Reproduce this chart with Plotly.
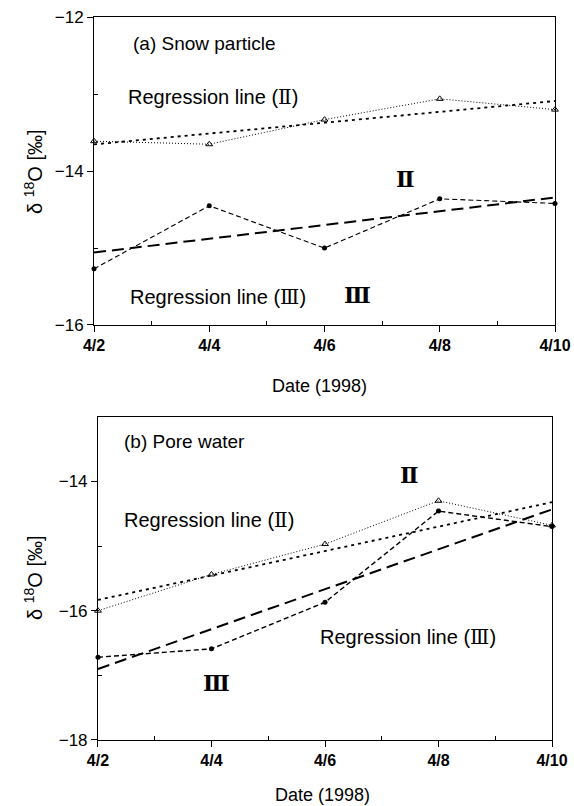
import numpy as np
import plotly.graph_objects as go

# Sampling dates (April 1998) and their axis labels
days = [2, 4, 6, 8, 10]
day_labels = ["4/2", "4/4", "4/6", "4/8", "4/10"]
minor_days = [3, 5, 7, 9]

# delta-18O [permil] for sites II and III
snow_II = [-13.61, -13.65, -13.33, -13.06, -13.20]
snow_III = [-15.27, -14.45, -15.00, -14.36, -14.42]
pore_II = [-16.00, -15.44, -14.97, -14.30, -14.68]
pore_III = [-16.72, -16.59, -15.87, -14.46, -14.70]

FONT = "Liberation Sans, Arial, Noto Sans CJK JP, sans-serif"
SERIF = "DejaVu Serif, Liberation Serif, Noto Sans CJK JP, serif"


def regression(y):
    """Least-squares line over the sampling period."""
    k, b = np.polyfit(days, y, 1)
    xs = [days[0], days[-1]]
    return xs, [k * x + b for x in xs]


def add_panel(fig, xref, yref, y2, y3, w3=1.1):
    # site II observations
    fig.add_trace(go.Scatter(
        x=days, y=y2, mode="lines+markers", xaxis=xref, yaxis=yref,
        line=dict(color="black", width=1, dash="1px,2px"),
        marker=dict(symbol="triangle-up-open", size=6, color="black",
                    line=dict(width=1)),
        cliponaxis=False, showlegend=False))
    rx, ry = regression(y2)
    fig.add_trace(go.Scatter(
        x=rx, y=ry, mode="lines", xaxis=xref, yaxis=yref,
        line=dict(color="black", width=1.8, dash="3px,4px"),
        showlegend=False))
    # site III observations
    fig.add_trace(go.Scatter(
        x=days, y=y3, mode="lines+markers", xaxis=xref, yaxis=yref,
        line=dict(color="black", width=w3, dash="5px,3px"),
        marker=dict(symbol="circle", size=5, color="black"),
        cliponaxis=False, showlegend=False))
    rx, ry = regression(y3)
    fig.add_trace(go.Scatter(
        x=rx, y=ry, mode="lines", xaxis=xref, yaxis=yref,
        line=dict(color="black", width=2, dash="12px,6px"),
        showlegend=False))


fig = go.Figure()
add_panel(fig, "x", "y", snow_II, snow_III)
add_panel(fig, "x2", "y2", pore_II, pore_III, w3=1.4)

xcommon = dict(
    range=[2, 10], tickmode="array", tickvals=days, ticktext=day_labels,
    ticks="outside", ticklen=6, tickcolor="black", showline=True,
    linecolor="black", linewidth=1, mirror=True, showgrid=False,
    zeroline=False, automargin=False,
    tickfont=dict(family=FONT, size=16, color="black", weight="bold"),
    minor=dict(tickmode="array", tickvals=minor_days, ticks="inside",
               ticklen=4, tickcolor="black"),
)
ycommon = dict(
    ticks="outside", ticklen=6, tickcolor="black", showline=True,
    linecolor="black", linewidth=1, mirror=True, showgrid=False,
    zeroline=False, automargin=False,
    tickfont=dict(family=FONT, size=17, color="black"),
)

fig.update_layout(
    width=574, height=806, margin=dict(l=0, r=0, t=0, b=0),
    paper_bgcolor="white", plot_bgcolor="white",
    xaxis=dict(domain=[0.1638, 0.9669], anchor="y", **xcommon),
    yaxis=dict(domain=[0.5968, 0.9785], anchor="x", range=[-16, -12],
               tickmode="array", tickvals=[-16, -14, -12],
               minor=dict(tickmode="array", tickvals=[-15, -13],
                          ticks="inside", ticklen=4, tickcolor="black"),
               **ycommon),
    xaxis2=dict(domain=[0.1707, 0.9617], anchor="y2", **xcommon),
    yaxis2=dict(domain=[0.0819, 0.4830], anchor="x2", range=[-18, -13],
                tickmode="array", tickvals=[-18, -16, -14],
                minor=dict(tickmode="array", tickvals=[-17, -15],
                           ticks="inside", ticklen=4, tickcolor="black"),
                **ycommon),
)


def px(x):
    return x / 574


def py(y):
    return 1 - y / 806


def label(text, x, y, size=19, family=FONT, xanchor="left", angle=0,
          weight="normal"):
    fig.add_annotation(text=text, x=px(x), y=py(y), xref="paper",
                       yref="paper", showarrow=False, xanchor=xanchor,
                       yanchor="middle", textangle=angle,
                       font=dict(family=family, size=size, color="black",
                                 weight=weight))


def roman(numeral):
    return f'<span style="font-family:{SERIF}">{numeral}</span>'


reg2 = f"Regression line ({roman('Ⅱ')})"
reg3 = f"Regression line ({roman('Ⅲ')})"
ytitle = "δ <sup>18</sup>O [‰]"

# panel (a)
label("(a) Snow particle", 131, 44)
label(reg2, 126, 97, size=20)
label("Ⅱ", 405, 179, size=22, family=SERIF, xanchor="center", weight="bold")
label(reg3, 128, 297, size=20)
label("Ⅲ", 357, 295, size=22, family=SERIF, xanchor="center", weight="bold")
label("Date (1998)", 319, 386, size=18, xanchor="center")
label(ytitle, 33, 172, size=20, xanchor="center", angle=-90)

# panel (b)
label("(b) Pore water", 122, 441)
label("Ⅱ", 409, 475, size=22, family=SERIF, xanchor="center", weight="bold")
label(reg2, 122, 520, size=20)
label(reg3, 318, 637, size=20)
label("Ⅲ", 216, 683, size=22, family=SERIF, xanchor="center", weight="bold")
label("Date (1998)", 322, 795, size=18, xanchor="center")
label(ytitle, 33, 578, size=20, xanchor="center", angle=-90)

fig.write_html("out.html")
